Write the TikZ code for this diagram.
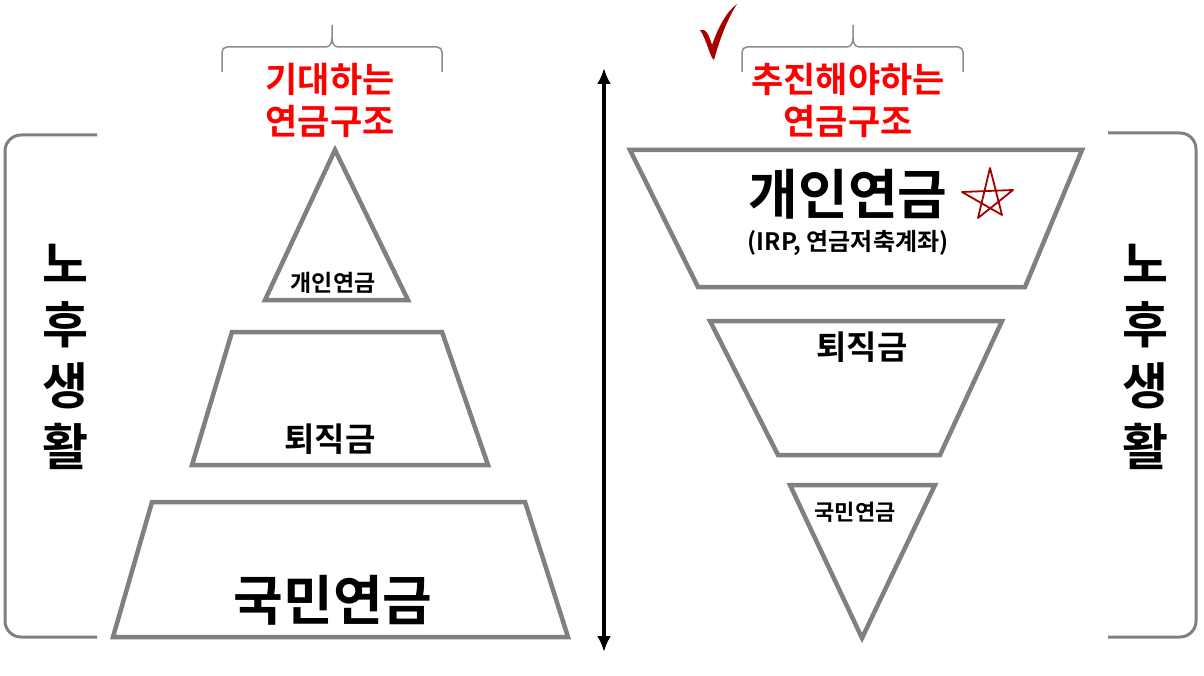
\documentclass[tikz,border=0pt]{standalone}
\usepackage{fontspec}
\usetikzlibrary{arrows.meta}
\setmainfont{Noto Sans CJK KR}[BoldFont={* Bold}]
\begin{document}
\begin{tikzpicture}[x=1pt,y=-1pt,
  shp/.style={draw=black!50,line width=4.5pt,line join=miter},
  gb/.style={draw=black!50,line width=3pt,rounded corners=16pt},
  br/.style={draw=black!45,line width=1.5pt},
  red/.style={text=red,font=\fontsize{35}{42}\selectfont\bfseries,align=center},
  side/.style={font=\fontsize{50}{61}\selectfont\bfseries,align=center}]
\useasboundingbox (0,0) rectangle (1204,676);
% left pyramid
\draw[shp] (335,150) -- (408,300) -- (265,300) -- cycle;
\draw[shp] (232,332) -- (442,332) -- (488,465) -- (192,465) -- cycle;
\draw[shp] (152,502) -- (525,502) -- (568,637) -- (113,637) -- cycle;
\node (lp1) at (333,283) {\fontsize{23}{26}\selectfont\bfseries 개인연금};
\node (lp2) at (330,439) {\fontsize{33}{36}\selectfont\bfseries 퇴직금};
\node (lp3) at (333,600) {\fontsize{54}{58}\selectfont\bfseries 국민연금};
% right inverted
\draw[shp] (630,150) -- (1082,150) -- (1025,287) -- (698,287) -- cycle;
\draw[shp] (710,321) -- (1002,321) -- (940,455) -- (778,455) -- cycle;
\draw[shp] (790,485) -- (935,485) -- (862,638) -- cycle;
\node (rp1) at (848,194) {\fontsize{54}{58}\selectfont\bfseries 개인연금};
\node (rp1b) at (848,243) {\fontsize{24}{26}\selectfont\bfseries (IRP, 연금저축계좌)};
\node (rp2) at (862,347) {\fontsize{33}{36}\selectfont\bfseries 퇴직금};
\node (rp3) at (855,512) {\fontsize{22}{24}\selectfont\bfseries 국민연금};
% arrow
\coordinate (at) at (604,68); \coordinate (ab) at (604,652);
\draw[line width=4.5pt,{Latex[length=16pt,width=14pt]}-{Latex[length=16pt,width=14pt]}] (at) -- (ab);
% side brackets
\draw[gb] (97,135) -- (5,135) -- (5,637) -- (97,637);
\draw[gb] (1108,133) -- (1196,133) -- (1196,637) -- (1108,637);
\node[side] (ls) at (65,357) {노\\후\\생\\활};
\node[side] (rs) at (1145,357) {노\\후\\생\\활};
% top braces
\draw[br] (222,72) -- (222,52) to[out=90,in=180] (227,47) -- (326,47) to[out=0,in=-90] (332,38) -- (332,25);
\draw[br] (332,38) to[out=-90,in=180] (338,47) -- (437,47) to[out=0,in=90] (442,52) -- (442,72);
\draw[br] (742,72) -- (742,52) to[out=90,in=180] (747,47) -- (847,47) to[out=0,in=-90] (853,38) -- (853,25);
\draw[br] (853,38) to[out=-90,in=180] (859,47) -- (958,47) to[out=0,in=90] (963,52) -- (963,72);
\node[red] (lt) at (330,100) {기대하는\\연금구조};
\node[red] (rt) at (848,100) {추진해야하는\\연금구조};
% check mark
\fill[red!65!black] (700,30) .. controls (706,28) and (709,35) .. (712,45) .. controls (718,28) and (726,12) .. (737,4)
 .. controls (728,18) and (720,38) .. (714,60) .. controls (710,58) and (707,40) .. cycle;
% star
\draw[red!65!black,line width=1.8pt,line join=round]
 (990,168) -- (978,218) -- (1013,190) -- (962,192) -- (1002,215) -- cycle;
\end{tikzpicture}
\end{document}
